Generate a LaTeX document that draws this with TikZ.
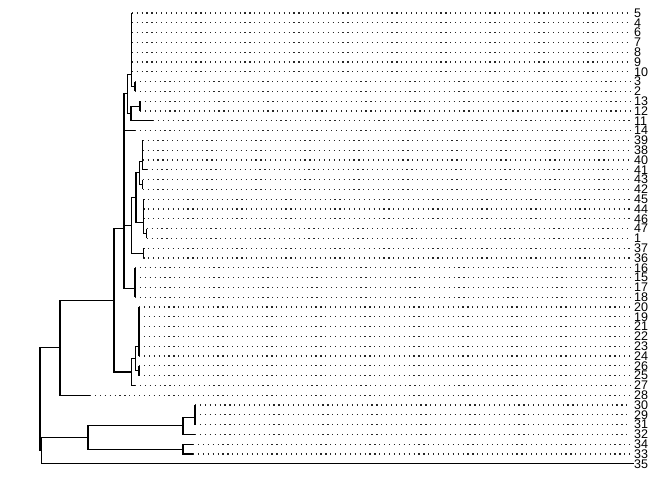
\documentclass[tikz,border=0pt]{standalone}
\usepackage{fontspec}
\setmainfont{Liberation Sans}
\usetikzlibrary{positioning}

\tikzset{
  branch/.style={line width=1.1pt},
  guide/.style={line width=1.2pt, dash pattern=on 1.2pt off 3.7pt, black!85},
  leaflabel/.style={anchor=west, inner sep=0pt, font=\fontsize{12.5}{12.5}\selectfont},
}
% parent x, first child x/y, second child x/y
\newcommand{\link}[5]{\draw[branch] (#2,#3) -| (#1,#5) -- (#4,#5);}

\begin{document}
\begin{tikzpicture}[x=1pt, y=-1pt]
\useasboundingbox (0,0) rectangle (672,480);

% leaves: label / where the solid part stops
\foreach \lab/\ex [count=\i from 0] in {5/131.7,4/131.7,6/131.7,7/131.7,8/131.7,9/131.7,10/131.7,3/135,2/135,
  13/140,12/140,11/153,14/135,39/142.7,38/142.7,40/142.7,41/146.7,43/142.7,42/142.7,45/143.3,44/143.3,46/143.3,
  47/146.7,1/146.7,37/143.3,36/143.3,16/135,15/135,17/135,18/135,20/139,19/139,21/139,22/139,23/139,24/139,
  26/139,25/139,27/135,28/90,30/195,29/195,31/195,32/195,34/193,33/193}{
  \coordinate (e\i) at (\ex,{13+9.8*\i});
  \node[leaflabel] (t\i) at (634,{13+9.8*\i}) {\lab};
  \draw[guide] (e\i) -- ([xshift=-3pt]t\i.west);
}
\node[leaflabel] (t46) at (634,463.8) {35};

% upper group
\link{131.7}{131.7}{13}{131.7}{22.8}
\link{131.7}{131.7}{17.9}{131.7}{32.6}
\link{131.7}{131.7}{25.25}{131.7}{42.4}
\link{131.7}{131.7}{33.8}{131.7}{52.2}
\link{131.7}{131.7}{43}{131.7}{62}
\link{131.7}{131.7}{52.5}{131.7}{71.8}
\link{135}{135}{81.6}{135}{91.4}
\link{131.7}{131.7}{62.25}{135}{86.5}
\link{140}{140}{101.2}{140}{111}
\link{131}{140}{106.1}{153}{120.8}
\link{127.3}{131.7}{74.4}{131}{113.45}
\link{124}{127.3}{93.9}{135}{130.6}

% middle group
\link{142.7}{142.7}{140.4}{142.7}{150.2}
\link{142.7}{142.7}{145.3}{142.7}{160}
\link{142.7}{142.7}{152.65}{146.7}{169.8}
\link{142.7}{142.7}{179.6}{142.7}{189.4}
\link{139.3}{142.7}{161.2}{142.7}{184.5}
\link{143.3}{143.3}{199.2}{143.3}{209}
\link{143.3}{143.3}{204.1}{143.3}{218.8}
\link{146.7}{146.7}{228.6}{146.7}{238.4}
\link{143.3}{143.3}{211.45}{146.7}{233.5}
\link{136}{139.3}{172.85}{143.3}{222.5}
\link{143.3}{143.3}{248.2}{143.3}{258}
\link{131.7}{136}{197.7}{143.3}{253.1}
\link{135}{135}{267.8}{135}{277.6}
\link{135}{135}{272.7}{135}{287.4}
\link{135}{135}{280.05}{135}{297.2}
\link{124}{124}{112.25}{131.7}{225.4}
\link{124}{124}{168.8}{135}{288.6}

% lower group
\link{139}{139}{307}{139}{316.8}
\link{139}{139}{311.9}{139}{326.6}
\link{139}{139}{319.25}{139}{336.4}
\link{139}{139}{327.8}{139}{346.2}
\link{139}{139}{337}{139}{356}
\link{139}{139}{365.8}{139}{375.6}
\link{135.7}{139}{346.5}{139}{370.7}
\link{131.7}{135.7}{358.6}{135}{385.4}
\link{114}{124}{228.7}{131.7}{372}
\link{60}{114}{300.35}{90}{395.2}

% outliers
\link{195}{195}{405}{195}{414.8}
\link{195}{195}{409.9}{195}{424.6}
\link{183}{195}{417.35}{195}{434.4}
\link{183}{193}{444.2}{193}{454}
\link{88}{183}{425.9}{183}{449.1}
\link{41.5}{88}{437.5}{634}{463.8}
\link{40}{60}{347.8}{41.5}{450.65}
\end{tikzpicture}
\end{document}
